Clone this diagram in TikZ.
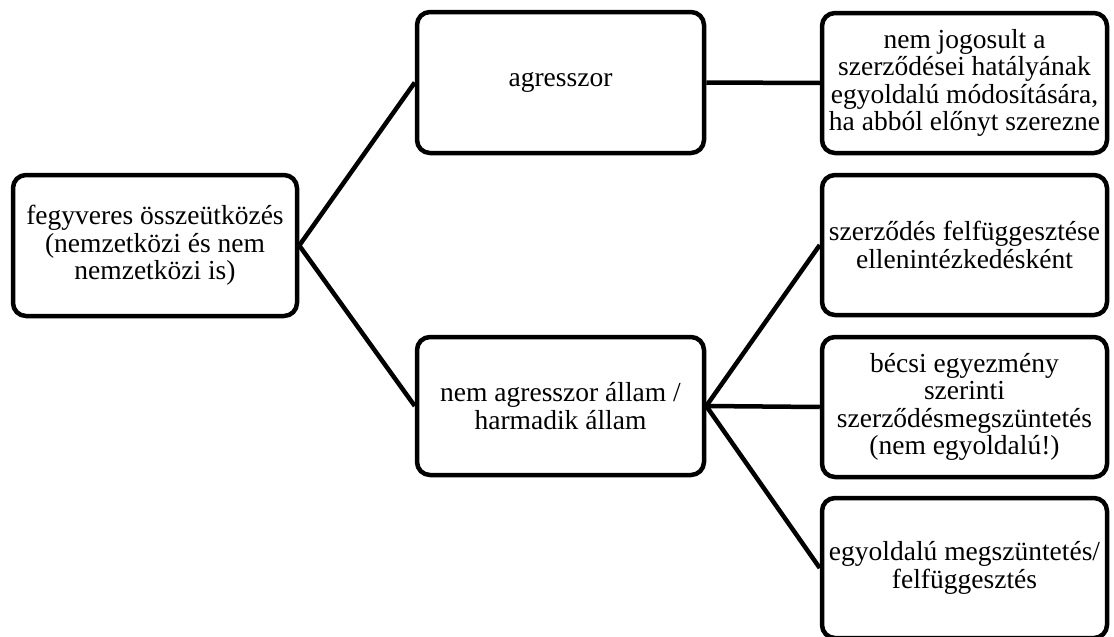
\documentclass[tikz,border=0pt]{standalone}
\usepackage{fontspec}
\setmainfont{Liberation Serif}
\newfontfamily\tnrfont{Liberation Serif}
\begin{document}
\begin{tikzpicture}[x=1pt,y=-1pt,
  box/.style={draw=black, line width=4.5pt, rounded corners=13pt, rectangle,
    align=center, inner sep=0pt, font=\tnrfont\fontsize{27.5}{27.5}\selectfont},
  conn/.style={draw=black, line width=4.5pt}]
\useasboundingbox (0,0) rectangle (1114,637);
\node[box, minimum width=284pt, minimum height=141pt] (root) at (155,245.5)
  {fegyveres összeütközés\\(nemzetközi és nem\\nemzetközi is)};
\node[box, minimum width=287pt, minimum height=141pt] (agr) at (560.5,82.5)
  {agresszor};
\node[box, minimum width=287pt, minimum height=138pt] (nem) at (560.5,406)
  {nem agresszor állam /\\harmadik állam};
\node[box, minimum width=285pt, minimum height=140pt] (b1) at (964.5,83)
  {nem jogosult a\\szerződései hatályának\\egyoldalú módosítására,\\ha abból előnyt szerezne};
\node[box, minimum width=285pt, minimum height=140pt] (b2) at (964.5,245)
  {szerződés felfüggesztése\\ellenintézkedésként};
\node[box, minimum width=285pt, minimum height=140pt] (b3) at (964.5,407)
  {bécsi egyezmény\\szerinti\\szerződésmegszüntetés\\(nem egyoldalú!)};
\node[box, minimum width=285pt, minimum height=140pt] (b4) at (964.5,568)
  {egyoldalú megszüntetés/\\felfüggesztés};
\draw[conn] (root.east) -- (agr.west);
\draw[conn] (root.east) -- (nem.west);
\draw[conn] (agr.east) -- (b1.west);
\draw[conn] (nem.east) -- (b2.west);
\draw[conn] (nem.east) -- (b3.west);
\draw[conn] (nem.east) -- (b4.west);
\end{tikzpicture}
\end{document}
